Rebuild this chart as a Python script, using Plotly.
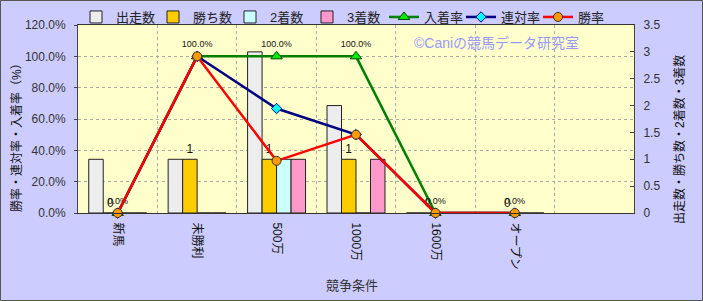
import plotly.graph_objects as go

categories = ["新馬", "未勝利", "500万", "1000万", "1600万", "オープン"]
starts = [1, 1, 3, 2, 0, 0]
wins = [0, 1, 1, 1, 0, 0]
seconds = [0, 0, 1, 0, 0, 0]
thirds = [0, 0, 1, 1, 0, 0]
place_rate = [0, 100, 100, 100, 0, 0]
rentai_rate = [0, 100, 66.7, 50, 0, 0]
win_rate = [0, 100, 33.3, 50, 0, 0]

x_title = "競争条件"
left_title = "勝率・連対率・入着率（%）"
right_title = "出走数・勝ち数・2着数・3着数"
watermark = "©Caniの競馬データ研究室"

W, H = 703, 301
L, R, T, B = 78, 69, 25, 88
PW, PH = W - L - R, H - T - B

FONT = "Liberation Sans, Noto Sans CJK JP, sans-serif"

fig = go.Figure()

bar_specs = [
    ("出走数", starts, "#EDEDED"),
    ("勝ち数", wins, "#FFCC00"),
    ("2着数", seconds, "#CCFFFF"),
    ("3着数", thirds, "#FF99CC"),
]
for name, vals, col in bar_specs:
    kw = {}
    if name == "勝ち数":
        kw = dict(text=[str(v) for v in vals], textposition="outside",
                  textfont=dict(size=12, color="#111"), constraintext="none",
                  cliponaxis=False)
    fig.add_trace(go.Bar(
        x=categories, y=vals, name=name, yaxis="y",
        marker=dict(color=col, line=dict(color="#222", width=1)),
        **kw))

fig.add_trace(go.Scatter(
    x=categories, y=place_rate, name="入着率", yaxis="y2",
    mode="lines+markers+text",
    text=[f"{v:.1f}%" for v in place_rate], textposition="top center",
    textfont=dict(size=9, color="#111", family="Arial Black, Liberation Sans"),
    line=dict(color="#008000", width=2.5),
    marker=dict(symbol="triangle-up", size=10, color="#00EE00",
                line=dict(color="#004400", width=1)),
    cliponaxis=False))
fig.add_trace(go.Scatter(
    x=categories, y=rentai_rate, name="連対率", yaxis="y2",
    mode="lines+markers",
    line=dict(color="#000080", width=2.5),
    marker=dict(symbol="diamond", size=8, color="#00FFFF",
                line=dict(color="#000080", width=1)),
    cliponaxis=False))
fig.add_trace(go.Scatter(
    x=categories, y=win_rate, name="勝率", yaxis="y2",
    mode="lines+markers",
    line=dict(color="#FF0000", width=2.5),
    marker=dict(symbol="circle", size=9, color="#FF9900",
                line=dict(color="#333333", width=1)),
    cliponaxis=False))

def py(ypx):
    return 1 - (ypx - T) / PH

def px(xpx):
    return (xpx - L) / PW

fig.update_layout(
    width=W, height=H,
    margin=dict(l=L, r=R, t=T, b=B, pad=0, autoexpand=False),
    paper_bgcolor="#CCCCFF",
    plot_bgcolor="#FFFFCC",
    font=dict(family=FONT, size=12, color="#222"),
    barmode="group", bargap=0.27, bargroupgap=0,
    showlegend=True,
    legend=dict(orientation="h", x=px(76), y=py(17), xanchor="left",
                yanchor="middle", bgcolor="rgba(0,0,0,0)",
                font=dict(size=13, color="#222"), itemwidth=30,
                entrywidth=32, entrywidthmode="pixels",
                tracegroupgap=0),
    xaxis=dict(
        type="category", categoryorder="array", categoryarray=categories,
        range=[-0.5, 6.5], tickson="boundaries", ticks="",
        tickangle=90, tickfont=dict(size=12, color="#111"),
        ticklabelstandoff=6,
        showgrid=True, gridcolor="#AAAAAA", griddash="dot", gridwidth=1,
        showline=True, linecolor="#333", linewidth=1, mirror=True,
    ),
    yaxis=dict(
        side="right", range=[0, 3.5], dtick=0.5, tick0=0,
        showgrid=False, zeroline=False,
        showline=True, linecolor="#444", linewidth=1,
        ticks="inside", ticklen=4, tickcolor="#444",
        ticklabelstandoff=6,
        tickfont=dict(size=12, color="#333"),
    ),
    yaxis2=dict(
        overlaying="y", side="left", range=[0, 120], dtick=20, tick0=0,
        tickformat=".1f", ticksuffix="%",
        showgrid=True, gridcolor="#AAAAAA", griddash="dot", gridwidth=1,
        zeroline=False,
        showline=True, linecolor="#444", linewidth=1,
        ticks="outside", ticklen=3, tickcolor="#444",
        ticklabelstandoff=6,
        tickfont=dict(size=12, color="#333"),
    ),
    annotations=[
        dict(text=watermark, xref="paper", yref="paper",
             x=px(496), y=py(43), xanchor="center", yanchor="middle",
             showarrow=False, font=dict(size=14, color="#9999FF")),
        dict(text=x_title, xref="paper", yref="paper",
             x=px(352), y=py(285), xanchor="center", yanchor="middle",
             showarrow=False, font=dict(size=13, color="#333")),
        dict(text=left_title, xref="paper", yref="paper", textangle=-90,
             x=px(16), y=py(135), xanchor="center", yanchor="middle",
             showarrow=False, font=dict(size=12, color="#111")),
        dict(text=right_title, xref="paper", yref="paper", textangle=-90,
             x=px(679), y=py(140), xanchor="center", yanchor="middle",
             showarrow=False, font=dict(size=12, color="#111")),
    ],
    shapes=[dict(
        type="rect", xref="paper", yref="paper",
        x0=px(0.5), x1=px(W - 0.5), y0=py(H - 0.5), y1=py(0.5),
        line=dict(color="#555555", width=1), fillcolor="rgba(0,0,0,0)")],
)

fig.write_html("out.html")
